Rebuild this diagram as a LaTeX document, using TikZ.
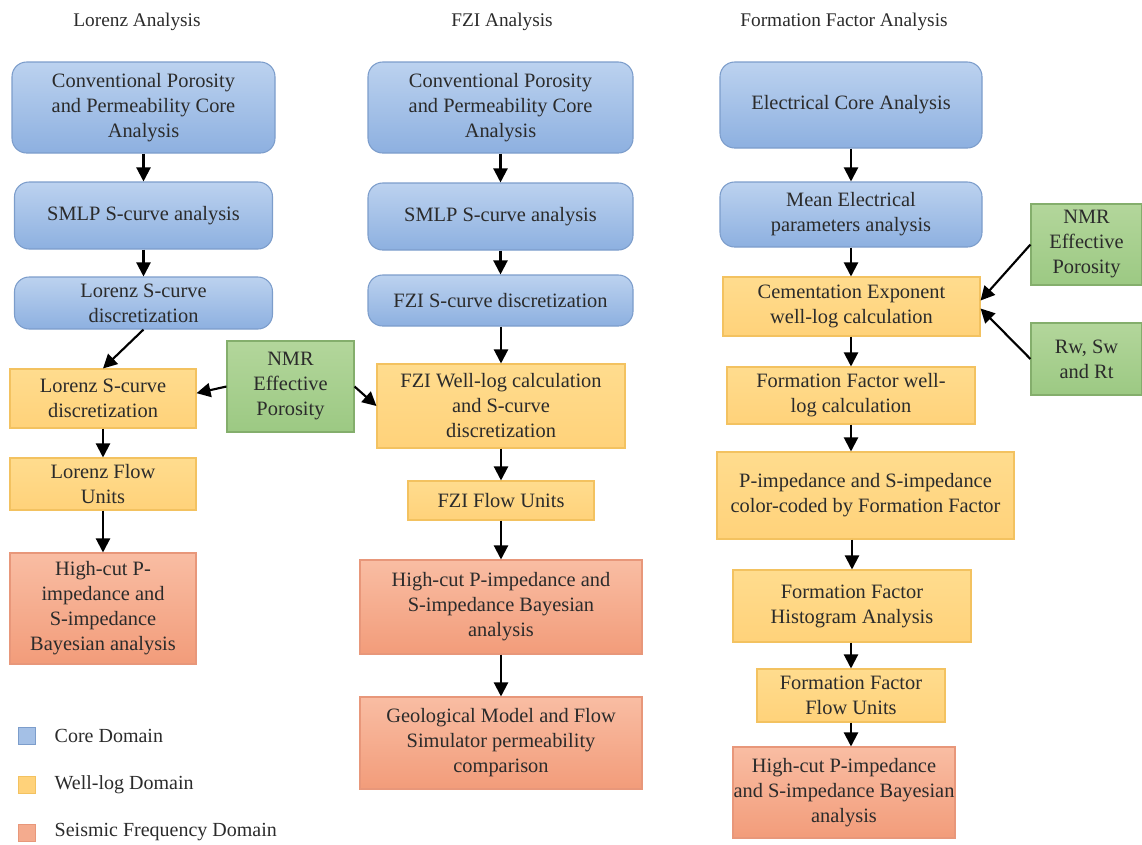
\documentclass[tikz,border=0pt]{standalone}
\usepackage{fontspec}
\setmainfont{Liberation Serif}
\usetikzlibrary{arrows.meta,shapes.geometric}
\definecolor{txt}{HTML}{2B2B2B}
\definecolor{bluetop}{HTML}{BCD2EF}
\definecolor{bluebot}{HTML}{8DB0E0}
\definecolor{blueline}{HTML}{7C9DCB}
\definecolor{yeltop}{HTML}{FFDC8E}
\definecolor{yelbot}{HTML}{FFD27A}
\definecolor{yelline}{HTML}{F3C260}
\definecolor{redtop}{HTML}{F9BDA3}
\definecolor{redbot}{HTML}{F29C7A}
\definecolor{redline}{HTML}{E8977A}
\definecolor{grntop}{HTML}{B3D69B}
\definecolor{grnbot}{HTML}{9CC983}
\definecolor{grnline}{HTML}{84AE6C}
\newcommand{\pxu}{0.75pt}
\tikzset{
  base/.style={align=center, text=txt, font=\fontsize{15.3}{18.75}\selectfont, inner sep=0pt, line width=0.8pt},
  corebox/.style={base, rounded corners=11pt, draw=blueline, top color=bluetop, bottom color=bluebot},
  wellbox/.style={base, draw=yelline, top color=yeltop, bottom color=yelbot},
  seisbox/.style={base, draw=redline, top color=redtop, bottom color=redbot},
  inbox/.style={base, draw=grnline, top color=grntop, bottom color=grnbot},
  title/.style={text=txt, font=\fontsize{14.5}{18.75}\selectfont},
  legtxt/.style={text=txt, font=\fontsize{15}{18.75}\selectfont, anchor=west},
  arr/.style={-{Triangle[length=10.5pt,width=10.5pt]}, line width=1.6pt, black},
  sz/.style 2 args={minimum width=#1*\pxu, minimum height=#2*\pxu}
}
\begin{document}
\begin{tikzpicture}[x=0.75pt,y=-0.75pt]
\useasboundingbox (0,0) rectangle (1142,844);
% titles
\node[title] (t1) at (137,22) {Lorenz Analysis};
\node[title] (t2) at (502,22) {FZI Analysis};
\node[title] (t3) at (844,22) {Formation Factor Analysis};
% column 1
\node[corebox, sz={263}{91}] (L1) at (143.5,107.5) {Conventional Porosity\\and Permeability Core\\Analysis};
\node[corebox, sz={258}{67}] (L2) at (143.5,215.5) {SMLP S-curve analysis};
\node[corebox, sz={258}{52}] (L3) at (143.5,303) {Lorenz S-curve\\discretization};
\node[wellbox, sz={186}{59}] (L4) at (103,398.5) {Lorenz S-curve\\discretization};
\node[wellbox, sz={186}{52}] (L5) at (103,484) {Lorenz Flow\\Units};
\node[seisbox, sz={186}{111}] (L6) at (103,608.5) {High-cut P-\\impedance and\\S-impedance\\Bayesian analysis};
\node[inbox, sz={127}{91}] (G1) at (290.5,386.5) {NMR\\Effective\\Porosity};
% column 2
\node[corebox, sz={265}{91}] (F1) at (500.5,107.5) {Conventional Porosity\\and Permeability Core\\Analysis};
\node[corebox, sz={265}{67}] (F2) at (500.5,216.5) {SMLP S-curve analysis};
\node[corebox, sz={265}{51}] (F3) at (500.5,300.5) {FZI S-curve discretization};
\node[wellbox, sz={248}{84}] (F4) at (501,406) {FZI Well-log calculation\\and S-curve\\discretization};
\node[wellbox, sz={186}{39}] (F5) at (501,500.5) {FZI Flow Units};
\node[seisbox, sz={282}{94}] (F6) at (501,607) {High-cut P-impedance and\\S-impedance Bayesian\\analysis};
\node[seisbox, sz={282}{92}] (F7) at (501,743) {Geological Model and Flow\\Simulator permeability\\comparison};
% column 3
\node[corebox, sz={262}{86}] (E1) at (851,105) {Electrical Core Analysis};
\node[corebox, sz={262}{65}] (E2) at (851,214.5) {Mean Electrical\\parameters analysis};
\node[wellbox, sz={257}{59}] (E3) at (851.5,306.5) {Cementation Exponent\\well-log calculation};
\node[wellbox, sz={248}{57}] (E4) at (851,395.5) {Formation Factor well-\\log calculation};
\node[wellbox, sz={297}{87}] (E5) at (865.5,495.5) {P-impedance and S-impedance\\color-coded by Formation Factor};
\node[wellbox, sz={238}{72}] (E6) at (852,606) {Formation Factor\\Histogram Analysis};
\node[wellbox, sz={188}{53}] (E7) at (851,695.5) {Formation Factor\\Flow Units};
\node[seisbox, sz={222}{91}] (E8) at (844,792.5) {High-cut P-impedance\\and S-impedance Bayesian\\analysis};
\node[inbox, sz={111}{81}] (G2) at (1086.5,244.5) {NMR\\Effective\\Porosity};
\node[inbox, sz={111}{72}] (G3) at (1086.5,359) {Rw, Sw\\and Rt};
% arrows column 1
\draw[arr] (L1.south) -- (L1.south |- L2.north);
\draw[arr] (L2.south) -- (L2.south |- L3.north);
\draw[arr] (L3.south) -- (L4.north);
\draw[arr] (L4.south) -- (L4.south |- L5.north);
\draw[arr] (L5.south) -- (L5.south |- L6.north);
\draw[arr] (G1.west) -- ([yshift=4pt]L4.east);
\draw[arr] (G1.east) -- (F4.west);
% arrows column 2
\draw[arr] (F1.south) -- (F1.south |- F2.north);
\draw[arr] (F2.south) -- (F2.south |- F3.north);
\draw[arr] (F4.north |- F3.south) -- (F4.north);
\draw[arr] (F4.south) -- (F4.south |- F5.north);
\draw[arr] (F5.south) -- (F5.south |- F6.north);
\draw[arr] (F6.south) -- (F6.south |- F7.north);
% arrows column 3
\draw[arr] (E1.south) -- (E1.south |- E2.north);
\draw[arr] (E2.south) -- (E2.south |- E3.north);
\draw[arr] (E4.north |- E3.south) -- (E4.north);
\draw[arr] (E4.south) -- (E4.south |- E5.north);
\draw[arr] (E6.north |- E5.south) -- (E6.north);
\draw[arr] (E7.north |- E6.south) -- (E7.north);
\draw[arr] (E7.south) -- (E7.south |- E8.north);
\draw[arr] (G2.west) -- ([yshift=4.5pt]E3.east);
\draw[arr] (G3.west) -- ([yshift=-1.5pt]E3.east);
% legend
\node[draw=blueline, fill=bluebot!80!white, minimum size=17*\pxu, inner sep=0pt, line width=0.5pt] (k1) at (26.5,735.5) {};
\node[draw=yelline, fill=yelbot, minimum size=17*\pxu, inner sep=0pt, line width=0.5pt] (k2) at (26.5,784.5) {};
\node[draw=redline, fill=redbot!85!white, minimum size=17*\pxu, inner sep=0pt, line width=0.5pt] (k3) at (26.5,832.5) {};
\node[legtxt] (l1) at (50,735.5) {Core Domain};
\node[legtxt] (l2) at (50,784.5) {Well-log Domain};
\node[legtxt] (l3) at (50,832.5) {Seismic Frequency Domain};
\end{tikzpicture}
\end{document}
